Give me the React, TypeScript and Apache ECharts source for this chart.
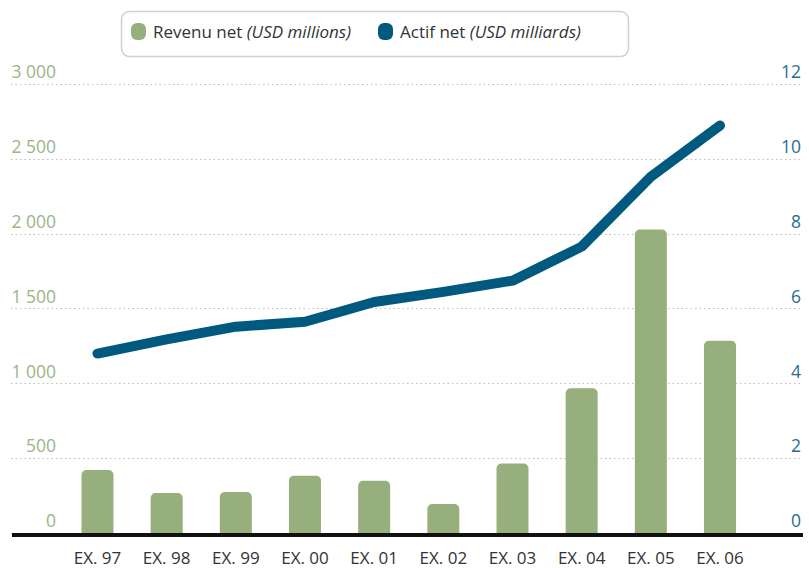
import React, { useEffect, useRef } from "react";
import * as echarts from "echarts";

const categories = ["EX. 97", "EX. 98", "EX. 99", "EX. 00", "EX. 01", "EX. 02", "EX. 03", "EX. 04", "EX. 05", "EX. 06"];
const revenueNet = [422, 268, 275, 384, 350, 195, 465, 968, 2030, 1285];
const netAssets = [4.8, 5.18, 5.52, 5.65, 6.18, 6.45, 6.75, 7.66, 9.53, 10.9];
const leftTicks = { min: 0, max: 3000, interval: 500 };
const rightTicks = { min: 0, max: 12, interval: 2 };

const GREEN = "#96af7c";
const BLUE = "#005a80";
const FONT = "'Open Sans', 'Noto Sans', sans-serif";

const fmtThousands = (v: number) => {
  if (v >= 1000) {
    const th = Math.floor(v / 1000);
    const rest = String(v % 1000).padStart(3, "0");
    return `${th} ${rest}`;
  }
  return String(v);
};

const ICON = "path://M6,0 H9 A6,6 0 0 1 15,6 V11 A6,6 0 0 1 9,17 H6 A6,6 0 0 1 0,11 V6 A6,6 0 0 1 6,0 Z";

export default function App() {
  const ref = useRef<HTMLDivElement>(null);
  useEffect(() => {
    if (!ref.current) return;
    const chart = echarts.init(ref.current, null, { renderer: "svg" });
    const gridTop = 84.3;
    const gridBottom = 568 - 533.1;
    const legendCommon = {
      top: 23,
      padding: 0,
      itemWidth: 15,
      itemHeight: 17,
      selectedMode: false,
      textStyle: {
        color: "#333",
        fontFamily: FONT,
        fontSize: 17,
        padding: [0, 0, 0, 2],
        rich: {
          n: { fontFamily: FONT, fontSize: 17, color: "#333" },
          i: { fontFamily: FONT, fontSize: 17, color: "#333", fontStyle: "italic" },
        },
      },
    };
    chart.setOption({
      animation: false,
      backgroundColor: "#fff",
      textStyle: { fontFamily: FONT },
      legend: [
        {
          ...legendCommon,
          left: 131,
          data: [{ name: "Revenu net", icon: ICON, itemStyle: { color: GREEN } }],
          formatter: () => "{n|Revenu net} {i|(USD millions)}",
        },
        {
          ...legendCommon,
          left: 378,
          data: [{ name: "Actif net", icon: ICON, itemStyle: { color: BLUE } }],
          formatter: () => "{n|Actif net} {i|(USD milliards)}",
        },
      ],
      graphic: [
        {
          type: "rect",
          left: 119,
          top: 9,
          shape: { width: 507, height: 45, r: 8 },
          style: { fill: "none", stroke: "#cfcfcf", lineWidth: 1.5 },
          z: 0,
        },
        {
          type: "rect",
          left: 12,
          top: 533,
          shape: { width: 791, height: 4 },
          style: { fill: "#111" },
          z: 100,
        },
      ],
      grid: [
        { left: 11, right: 6, top: gridTop, bottom: gridBottom },
        { left: 62.9, right: 54.4, top: gridTop, bottom: gridBottom },
      ],
      xAxis: [
        { gridIndex: 0, type: "value", show: false, min: 0, max: 1 },
        {
          gridIndex: 1,
          type: "category",
          data: categories,
          axisLine: { show: false },
          axisTick: { show: false },
          axisLabel: { color: "#333", fontSize: 17, fontFamily: FONT, margin: 16 },
        },
      ],
      yAxis: [
        {
          gridIndex: 0,
          type: "value",
          position: "left",
          ...leftTicks,
          axisLine: { show: false },
          axisTick: { show: false },
          axisLabel: {
            inside: true,
            margin: 45,
            align: "right",
            verticalAlign: "bottom",
            color: "#9ab589",
            fontSize: 17.5,
            fontFamily: FONT,
            padding: [0, 0, 4, 0],
            formatter: fmtThousands,
          },
          splitLine: { show: true, lineStyle: { color: "#bdbdbd", type: [1.5, 3], width: 1 } },
        },
        {
          gridIndex: 0,
          type: "value",
          position: "right",
          ...rightTicks,
          axisLine: { show: false },
          axisTick: { show: false },
          axisLabel: {
            inside: true,
            margin: 2,
            align: "right",
            verticalAlign: "bottom",
            color: "#2a6c91",
            fontSize: 17.5,
            fontFamily: FONT,
            padding: [0, 0, 4, 0],
          },
          splitLine: { show: false },
        },
        { gridIndex: 1, type: "value", ...leftTicks, show: false, splitLine: { show: false } },
        { gridIndex: 1, type: "value", ...rightTicks, show: false, splitLine: { show: false } },
      ],
      series: [
        {
          name: "Revenu net",
          type: "bar",
          xAxisIndex: 1,
          yAxisIndex: 2,
          data: revenueNet,
          barWidth: 32,
          itemStyle: { color: GREEN, borderRadius: [5, 5, 0, 0] },
          z: 2,
        },
        {
          name: "Actif net",
          type: "line",
          xAxisIndex: 1,
          yAxisIndex: 3,
          data: netAssets,
          symbol: "none",
          lineStyle: { color: BLUE, width: 10, cap: "round", join: "round" },
          itemStyle: { color: BLUE },
          z: 3,
        },
      ],
    });
    return () => chart.dispose();
  }, []);
  return <div ref={ref} style={{ position: "fixed", left: 0, top: 0, width: 809, height: 568 }} />;
}
